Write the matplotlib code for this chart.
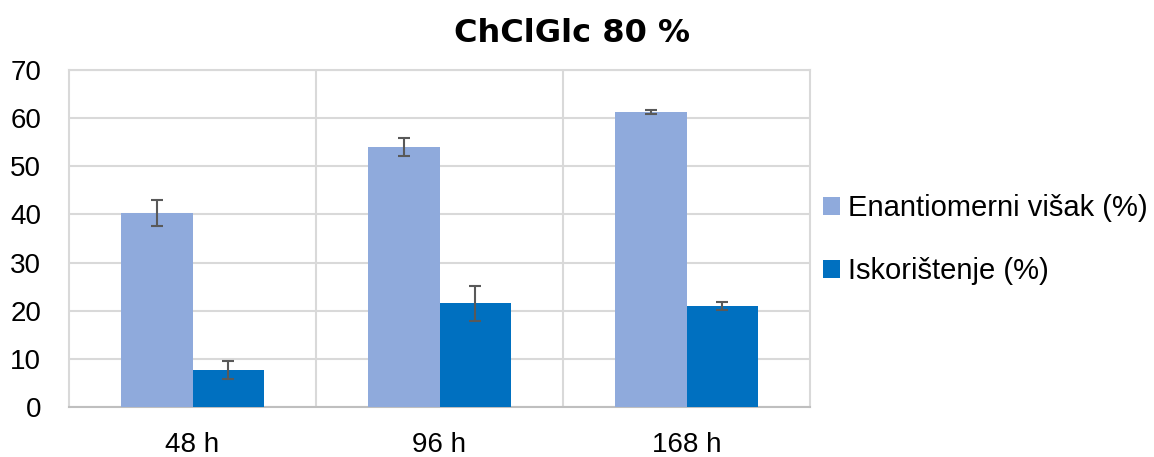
import matplotlib
matplotlib.use("Agg")
import matplotlib.pyplot as plt
import numpy as np
from matplotlib.patches import Patch

categories = ["48 h", "96 h", "168 h"]
series_names = ["Enantiomerni višak (%)", "Iskorištenje (%)"]
ee_values = [40.3, 54.0, 61.3]
ee_errors = [2.8, 1.8, 0.4]
yield_values = [7.7, 21.5, 21.0]
yield_errors = [1.9, 3.7, 0.9]
title = "ChClGlc 80 %"

plt.rcParams['font.family'] = ['Liberation Sans', 'DejaVu Sans']
W, H = 1154, 457
fig = plt.figure(figsize=(W/100, H/100), dpi=100)
ax = fig.add_axes([69/W, (H-407)/H, (810-69)/W, (407-70)/H])

x = np.arange(len(categories))
bw = 0.288
c1 = "#8FAADC"
c2 = "#0070C0"
ecol = "#595959"
ax.bar(x - bw/2, ee_values, bw, color=c1, zorder=3)
ax.bar(x + bw/2, yield_values, bw, color=c2, zorder=3)
ax.errorbar(x - bw/2, ee_values, yerr=ee_errors, fmt='none', ecolor=ecol,
            elinewidth=1.5, capsize=4.3, capthick=1.5, zorder=4)
ax.errorbar(x + bw/2, yield_values, yerr=yield_errors, fmt='none', ecolor=ecol,
            elinewidth=1.5, capsize=4.3, capthick=1.5, zorder=4)

ax.set_xlim(-0.5, len(categories) - 0.5)
ax.set_ylim(0, 70)
ax.set_yticks(np.arange(0, 71, 10))
ax.set_xticks(x)
ax.set_xticklabels(categories)
ax.yaxis.grid(True, color="#D9D9D9", linewidth=1.5, zorder=0)
for b in np.arange(0.5, len(categories) - 0.5, 1):
    ax.axvline(b, color="#D9D9D9", linewidth=1.5, zorder=0)
for s in ["top", "right", "left"]:
    ax.spines[s].set_color("#D9D9D9")
    ax.spines[s].set_linewidth(1.5)
ax.spines["bottom"].set_color("#BFBFBF")
ax.spines["bottom"].set_linewidth(1.5)
ax.tick_params(axis='both', length=0, labelsize=20, colors="#000000")
ax.tick_params(axis='y', pad=20)
ax.tick_params(axis='x', pad=18)

fig.text(572/W, (H-33)/H, title, ha='center', va='center', fontsize=23,
         fontweight='bold', family='DejaVu Sans')

handles = [Patch(facecolor=c1), Patch(facecolor=c2)]
fig.legend(handles, series_names, loc='center left', bbox_to_anchor=(823/W, (H-239.5)/H),
           frameon=False, fontsize=21, handlelength=0.59, handleheight=0.59,
           handletextpad=0.28, labelspacing=1.2, borderpad=0, borderaxespad=0)

fig.savefig("out.png", dpi=100)
